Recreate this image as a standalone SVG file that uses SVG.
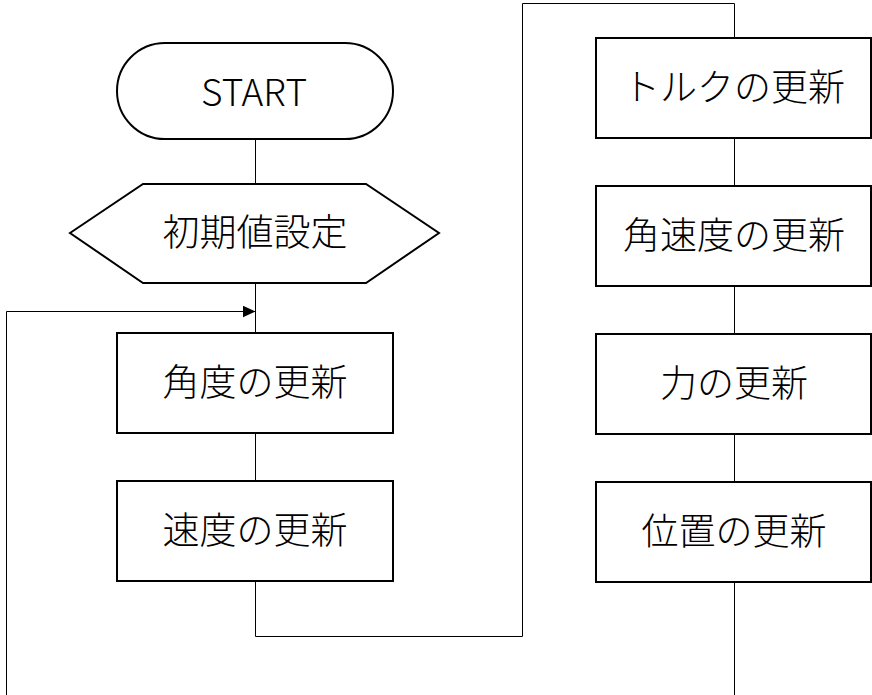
<svg xmlns="http://www.w3.org/2000/svg" width="872" height="695" viewBox="0 0 872 695">
<style>
.s{fill:#fff;stroke:#000;stroke-width:2}
.c{fill:none;stroke:#000;stroke-width:1}
.t{font-family:"Noto Sans CJK JP","Noto Sans",sans-serif;font-weight:300;font-size:37px;text-anchor:middle;dominant-baseline:central;fill:#000}
</style>
<defs>
<marker id="ah" markerWidth="14" markerHeight="12" refX="13" refY="6" orient="auto" markerUnits="userSpaceOnUse">
<path d="M0,0 L13,6 L0,12 Z" fill="#000"/>
</marker>
</defs>
<g id="connectors">
<line class="c" x1="255.5" y1="139" x2="255.5" y2="184"/>
<line class="c" x1="255.5" y1="283" x2="255.5" y2="333"/>
<line class="c" x1="255.5" y1="433" x2="255.5" y2="481"/>
<polyline class="c" points="255.5,581 255.5,636.5 522.5,636.5 522.5,3.5 734.5,3.5 734.5,38"/>
<line class="c" x1="734.5" y1="138" x2="734.5" y2="186"/>
<line class="c" x1="734.5" y1="286" x2="734.5" y2="334"/>
<line class="c" x1="734.5" y1="434" x2="734.5" y2="482"/>
<line class="c" x1="734.5" y1="582" x2="734.5" y2="695"/>
<polyline class="c" points="6.5,695 6.5,311.5 255.5,311.5" marker-end="url(#ah)"/>
</g>
<g id="start">
<rect class="s" x="117" y="43" width="276" height="96" rx="48" ry="48"/>
<text class="t" x="254" y="90" font-size="30">START</text>
</g>
<g id="init">
<polygon class="s" points="70,233 143,184 366,184 439,233 366,283 143,283"/>
<text class="t" x="255" y="230">初期値設定</text>
</g>
<g id="angle">
<rect class="s" x="117" y="333" width="276" height="100"/>
<text class="t" x="255" y="380">角度の更新</text>
</g>
<g id="velocity">
<rect class="s" x="117" y="481" width="276" height="100"/>
<text class="t" x="255" y="528">速度の更新</text>
</g>
<g id="torque">
<rect class="s" x="596" y="38" width="275" height="100"/>
<text class="t" x="734" y="85">トルクの更新</text>
</g>
<g id="angvel">
<rect class="s" x="596" y="186" width="275" height="100"/>
<text class="t" x="734" y="233">角速度の更新</text>
</g>
<g id="force">
<rect class="s" x="596" y="334" width="275" height="100"/>
<text class="t" x="734" y="381">力の更新</text>
</g>
<g id="position">
<rect class="s" x="596" y="482" width="275" height="100"/>
<text class="t" x="734" y="529">位置の更新</text>
</g>
</svg>
